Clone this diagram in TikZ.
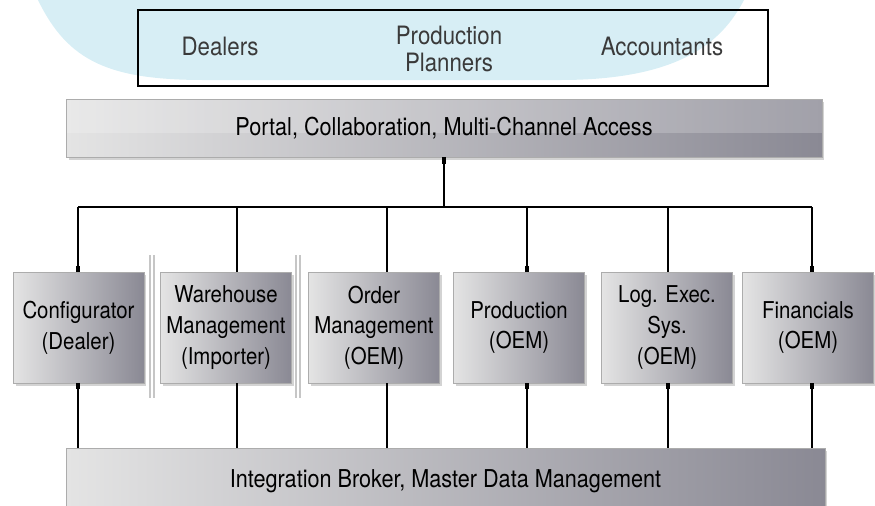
\documentclass[tikz,border=0pt]{standalone}
\usepackage{fontspec}
\setmainfont{TeX Gyre Heros}[FakeStretch=0.88]
\usetikzlibrary{shadows}
\definecolor{skyblue}{RGB}{215,238,245}
\definecolor{barlight}{RGB}{228,228,228}
\definecolor{bardark}{RGB}{138,137,148}
\definecolor{labelgray}{RGB}{58,58,58}
\begin{document}
\begin{tikzpicture}[x=0.02cm,y=-0.02cm]
\tikzstyle{every node}+=[inner sep=0pt, align=center, font=\fontsize{13.2}{17.4}\selectfont]
\tikzstyle{bar}=[left color=barlight, right color=bardark, draw=gray!65, line width=0.4pt,
  drop shadow={shadow xshift=0.05cm, shadow yshift=-0.05cm, opacity=0.35}]
\tikzstyle{gloss}=[path picture={\fill [white, opacity=0.2] (path picture bounding box.north west) rectangle ([yshift=-0.1cm]path picture bounding box.east);}]
\tikzstyle{app}=[bar, minimum width=2.62cm, minimum height=2.22cm]
\tikzstyle{wide}=[bar, font=\fontsize{14}{17.4}\selectfont]
\tikzstyle{role}=[text=labelgray, font=\fontsize{14.4}{15}\selectfont]
\tikzstyle{wire}=[black, line width=0.8pt]
\tikzstyle{stub}=[black, line width=2pt]
\tikzstyle{sepline}=[gray!45, line width=0.7pt]
\useasboundingbox (0,0) rectangle (875,505);
\fill [skyblue] (38,0) .. controls (68,62) and (110,80) .. (205,80) -- (560,80) .. controls (680,80) and (722,42) .. (744,0) -- cycle;
\node [draw=black, line width=0.8pt, minimum width=12.6cm, minimum height=1.52cm] (users) at (453,48) {};
\node [role] (dealers) at (220,46) {Dealers};
\node [role] (planners) at (449,49) {Production\\Planners};
\node [role] (accountants) at (662,46) {Accountants};
\node [wide, gloss, minimum width=15.12cm, minimum height=1.16cm] (portal) at (444,128) {Portal, Collaboration, Multi-Channel Access};
\node [app] (cfg) at (78.5,327.5) {Configurator\\(Dealer)};
\node [app] (whm) at (226,327.5) {Warehouse\\Management\\(Importer)};
\node [app] (ordm) at (374,327.5) {Order\\Management\\(OEM)};
\node [app] (prod) at (519,327.5) {Production\\(OEM)};
\node [app] (les) at (667,327.5) {Log. Exec.\\Sys.\\(OEM)};
\node [app] (fin) at (808,327.5) {Financials\\(OEM)};
\node [wide, minimum width=15.18cm, minimum height=1.3cm] (broker) at (445.5,481) {Integration Broker, Master Data Management};
\draw [sepline] (150,255) -- (150,398);
\draw [sepline] (154,255) -- (154,398);
\draw [sepline] (296,255) -- (296,398);
\draw [sepline] (300,255) -- (300,398);
\coordinate (bus) at (444,207);
\coordinate (t1) at (78,207);
\coordinate (t2) at (237,207);
\coordinate (t3) at (387,207);
\coordinate (t4) at (527,207);
\coordinate (t5) at (668,207);
\coordinate (t6) at (812,207);
\draw [wire] (portal.south) -- (bus);
\draw [stub] (portal.south) -- ++(0,7);
\draw [wire] (t1) -- (t6);
\draw [wire] (t1) -- (t1 |- cfg.north);
\draw [wire] (t2) -- (t2 |- whm.north);
\draw [wire] (t3) -- (t3 |- ordm.north);
\draw [wire] (t4) -- (t4 |- prod.north);
\draw [wire] (t5) -- (t5 |- les.north);
\draw [wire] (t6) -- (t6 |- fin.north);
\draw [wire] (t1 |- cfg.south) -- (t1 |- broker.north);
\draw [wire] (t2 |- whm.south) -- (t2 |- broker.north);
\draw [wire] (t3 |- ordm.south) -- (t3 |- broker.north);
\draw [wire] (t4 |- prod.south) -- (t4 |- broker.north);
\draw [wire] (t5 |- les.south) -- (t5 |- broker.north);
\draw [wire] (t6 |- fin.south) -- (t6 |- broker.north);
\draw [stub] (t1 |- cfg.north) -- ++(0,-6);
\draw [stub] (t4 |- prod.north) -- ++(0,-6);
\draw [stub] (t6 |- fin.north) -- ++(0,-6);
\draw [stub] (t1 |- cfg.south) -- ++(0,6);
\draw [stub] (t4 |- prod.south) -- ++(0,6);
\draw [stub] (t5 |- les.south) -- ++(0,6);
\draw [stub] (t6 |- fin.south) -- ++(0,6);
\end{tikzpicture}
\end{document}
